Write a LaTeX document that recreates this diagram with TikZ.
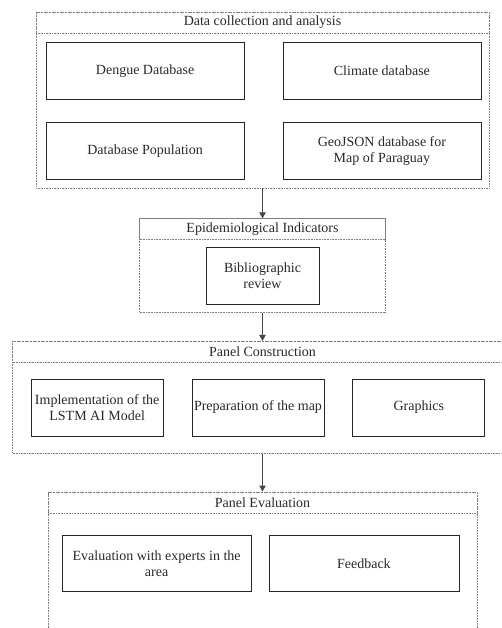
\documentclass[tikz,border=0pt]{standalone}
\usepackage{fontspec}
\setmainfont{Liberation Serif}
\usepackage{tikz}
\usetikzlibrary{arrows.meta,positioning}
\definecolor{PanelGray}{RGB}{125,125,125}
\definecolor{TextGray}{RGB}{40,40,40}
\definecolor{ArrowGray}{RGB}{70,70,70}

\begin{document}
\begin{tikzpicture}[>={Triangle[length=6pt,width=6.5pt]}, x=1pt, y=-1pt,
    every node/.style={font=\fontsize{14}{16.5}\selectfont, text=TextGray},
    panel/.style={draw=PanelGray, densely dotted, line width=0.6pt, inner sep=0pt},
    paneltitle/.style={draw=PanelGray, densely dotted, line width=0.6pt,
        inner sep=0pt, minimum height=21pt},
    task/.style={draw=black!85, line width=0.8pt, align=center, inner sep=1pt,
        minimum height=57pt},
    flow/.style={->, draw=ArrowGray, line width=1pt}]
\useasboundingbox (0,0) rectangle (501,628);
\clip (0,0) rectangle (501,628);
% data collection and analysis
\node[panel, minimum width=453pt, minimum height=176pt] (data) at (262.5,100) {};
\node[paneltitle, minimum width=453pt, below=0pt of data.north] (datat) {Data collection and analysis};
\node[task, minimum width=198pt, below right=9pt and 10pt of datat.south west] (dengue) {Dengue Database};
\node[task, minimum width=198pt, right=38pt of dengue] (climate) {Climate database};
\node[task, minimum width=198pt, below=22pt of dengue] (popul) {Database Population};
\node[task, minimum width=198pt, below=22pt of climate] (geojson) {GeoJSON database for\\Map of Paraguay};
% epidemiological indicators
\node[panel, minimum width=246pt, minimum height=94pt, below=30pt of data] (epi) {};
\node[paneltitle, minimum width=246pt, below=0pt of epi.north] (epit) {Epidemiological Indicators};
\node[task, minimum width=113pt, below=7pt of epit] (biblio) {Bibliographic\\review};
% panel construction
\node[panel, minimum width=500pt, minimum height=112pt, below=28pt of epi] (cons) {};
\node[paneltitle, minimum width=500pt, below=0pt of cons.north] (const) {Panel Construction};
\node[task, minimum width=132pt, below=16pt of const, xshift=-4.5pt] (prep) {Preparation of the map};
\node[task, minimum width=132pt, left=28pt of prep] (lstm) {Implementation of the\\LSTM AI Model};
\node[task, minimum width=132pt, right=28pt of prep] (graph) {Graphics};
% panel evaluation
\node[panel, minimum width=429pt, minimum height=160pt, below=38pt of cons] (eval) {};
\node[paneltitle, minimum width=429pt, below=0pt of eval.north] (evalt) {Panel Evaluation};
\node[task, minimum width=189pt, minimum height=56pt, below right=22pt and 14pt of evalt.south west] (experts) {Evaluation with experts in the\\area};
\node[task, minimum width=190pt, minimum height=56pt, right=17pt of experts] (feedback) {Feedback};
\draw[flow] (data) -- (epi);
\draw[flow] (epi) -- (cons);
\draw[flow] (cons) -- (eval);
\end{tikzpicture}
\end{document}
